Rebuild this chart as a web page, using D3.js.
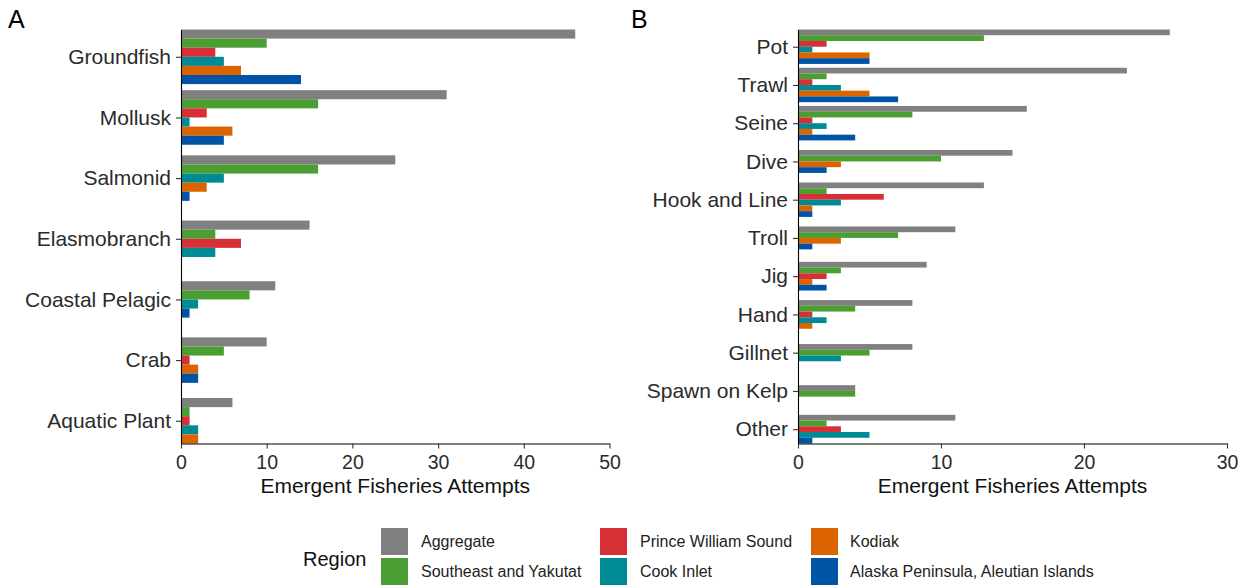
<!DOCTYPE html>
<html>
<head>
<meta charset="utf-8">
<script src="https://cdn.jsdelivr.net/npm/d3@7"></script>
<style>
  html, body { margin: 0; padding: 0; background: #ffffff; }
  svg { display: block; font-family: "Liberation Sans", Arial, sans-serif; }
</style>
</head>
<body>
<svg id="chart" width="1249" height="588"></svg>
<script>
// Regions (legend order) and their fill colours
const regions = [
  "Aggregate",
  "Southeast and Yakutat",
  "Prince William Sound",
  "Cook Inlet",
  "Kodiak",
  "Alaska Peninsula, Aleutian Islands"
];
const regionColors = ["#808080", "#4b9e32", "#d62f36", "#008a94", "#db6300", "#0054a5"];

// Panel A: species groups
const speciesCategories = ["Groundfish", "Mollusk", "Salmonid", "Elasmobranch", "Coastal Pelagic", "Crab", "Aquatic Plant"];
const speciesAggregate   = [46, 31, 25, 15, 11, 10, 6];
const speciesSoutheast   = [10, 16, 16, 4, 8, 5, 1];
const speciesPWS         = [4, 3, 0, 7, 0, 1, 1];
const speciesCookInlet   = [5, 1, 5, 4, 2, 0, 2];
const speciesKodiak      = [7, 6, 3, 0, 0, 2, 2];
const speciesAlaskaPen   = [14, 5, 1, 0, 1, 2, 0];
const speciesTicks = [0, 10, 20, 30, 40, 50];

// Panel B: gear types
const gearCategories = ["Pot", "Trawl", "Seine", "Dive", "Hook and Line", "Troll", "Jig", "Hand", "Gillnet", "Spawn on Kelp", "Other"];
const gearAggregate = [26, 23, 16, 15, 13, 11, 9, 8, 8, 4, 11];
const gearSoutheast = [13, 2, 8, 10, 2, 7, 3, 4, 5, 4, 2];
const gearPWS       = [2, 1, 1, 0, 6, 0, 2, 1, 0, 0, 3];
const gearCookInlet = [1, 3, 2, 0, 3, 0, 0, 2, 3, 0, 5];
const gearKodiak    = [5, 5, 1, 3, 1, 3, 1, 1, 0, 0, 0];
const gearAlaskaPen = [5, 7, 4, 2, 1, 1, 2, 0, 0, 0, 1];
const gearTicks = [0, 10, 20, 30];

const xTitle = "Emergent Fisheries Attempts";
const legendTitle = "Region";

const svg = d3.select("#chart");
const FONT = "\"Liberation Sans\", Arial, sans-serif";

// Dodged horizontal bars: zero counts are dropped and the remaining bars
// are packed and centred on the category (band width 0.9, six slots).
function drawPanel(opts) {
  const { categories, series, xMax, ticks, left, right, top, bottom, tag, tagX } = opts;
  const slot = 0.9 / regions.length;

  const rows = categories.map((cat, i) => {
    const present = regions.map((r, k) => ({ region: r, k, value: series[k][i] }))
      .filter(d => d.value > 0);
    const n = present.length;
    present.forEach((d, j) => {
      d.y0 = i - n * slot / 2 + j * slot;
      d.y1 = d.y0 + slot;
    });
    return { cat, i, bars: present };
  });
  const bars = rows.flatMap(r => r.bars);
  const yMin = d3.min(bars, d => d.y0);
  const yMax = d3.max(bars, d => d.y1);

  const x = d3.scaleLinear().domain([0, xMax]).range([left, right]);
  const y = d3.scaleLinear().domain([yMin, yMax]).range([top, bottom]);

  const g = svg.append("g");

  g.append("g").selectAll("rect")
    .data(bars)
    .join("rect")
    .attr("x", x(0))
    .attr("y", d => y(d.y0))
    .attr("width", d => x(d.value) - x(0))
    .attr("height", d => y(d.y1) - y(d.y0))
    .attr("fill", d => regionColors[d.k]);

  // y axis (categories)
  const yAxis = g.append("g")
    .attr("transform", `translate(${left},0)`)
    .call(d3.axisLeft(y)
      .tickValues(categories.map((c, i) => i))
      .tickFormat(i => categories[i])
      .tickSize(5).tickSizeOuter(0).tickPadding(5));
  yAxis.select(".domain").attr("stroke", "#000").attr("stroke-width", 1.1);
  yAxis.selectAll(".tick line").attr("stroke", "#333").attr("stroke-width", 1.1);
  yAxis.selectAll(".tick text")
    .attr("font-family", FONT).attr("font-size", 21).attr("fill", "#2b2b2b");

  // x axis
  const xAxis = g.append("g")
    .attr("transform", `translate(0,${bottom})`)
    .call(d3.axisBottom(x).tickValues(ticks).tickSize(5).tickSizeOuter(0).tickPadding(6.5));
  xAxis.select(".domain").attr("stroke", "#000").attr("stroke-width", 1.1);
  xAxis.selectAll(".tick line").attr("stroke", "#333").attr("stroke-width", 1.1);
  xAxis.selectAll(".tick text")
    .attr("font-family", FONT).attr("font-size", 19.5).attr("fill", "#2b2b2b");

  g.append("text")
    .attr("x", (left + right) / 2)
    .attr("y", 493)
    .attr("text-anchor", "middle")
    .attr("font-family", FONT)
    .attr("font-size", 21)
    .attr("fill", "#111")
    .text(xTitle);

  svg.append("text")
    .attr("x", tagX)
    .attr("y", 28)
    .attr("font-family", FONT)
    .attr("font-size", 25)
    .attr("fill", "#000")
    .text(tag);
}

drawPanel({
  categories: speciesCategories,
  series: [speciesAggregate, speciesSoutheast, speciesPWS, speciesCookInlet, speciesKodiak, speciesAlaskaPen],
  xMax: 50, ticks: speciesTicks,
  left: 181, right: 609.5, top: 29.5, bottom: 443.5,
  tag: "A", tagX: 8
});

drawPanel({
  categories: gearCategories,
  series: [gearAggregate, gearSoutheast, gearPWS, gearCookInlet, gearKodiak, gearAlaskaPen],
  xMax: 30, ticks: gearTicks,
  left: 798, right: 1227, top: 29.5, bottom: 443.5,
  tag: "B", tagX: 631
});

// Legend: three columns of two keys, filled column by column
const legend = svg.append("g");
legend.append("text")
  .attr("x", 303).attr("y", 566)
  .attr("font-family", FONT).attr("font-size", 20).attr("fill", "#111")
  .text(legendTitle);

const colKeyX = [381, 600, 811];
const colTextX = [421, 640, 850];
const rowKeyY = [528, 558];
const rowTextY = [547, 577];

const items = legend.selectAll("g.item")
  .data(regions.map((r, k) => ({ r, k, col: Math.floor(k / 2), row: k % 2 })))
  .join("g").attr("class", "item");
items.append("rect")
  .attr("x", d => colKeyX[d.col])
  .attr("y", d => rowKeyY[d.row])
  .attr("width", 27).attr("height", 27)
  .attr("fill", d => regionColors[d.k]);
items.append("text")
  .attr("x", d => colTextX[d.col])
  .attr("y", d => rowTextY[d.row])
  .attr("font-family", FONT).attr("font-size", 16).attr("fill", "#222")
  .text(d => d.r);
</script>
</body>
</html>
